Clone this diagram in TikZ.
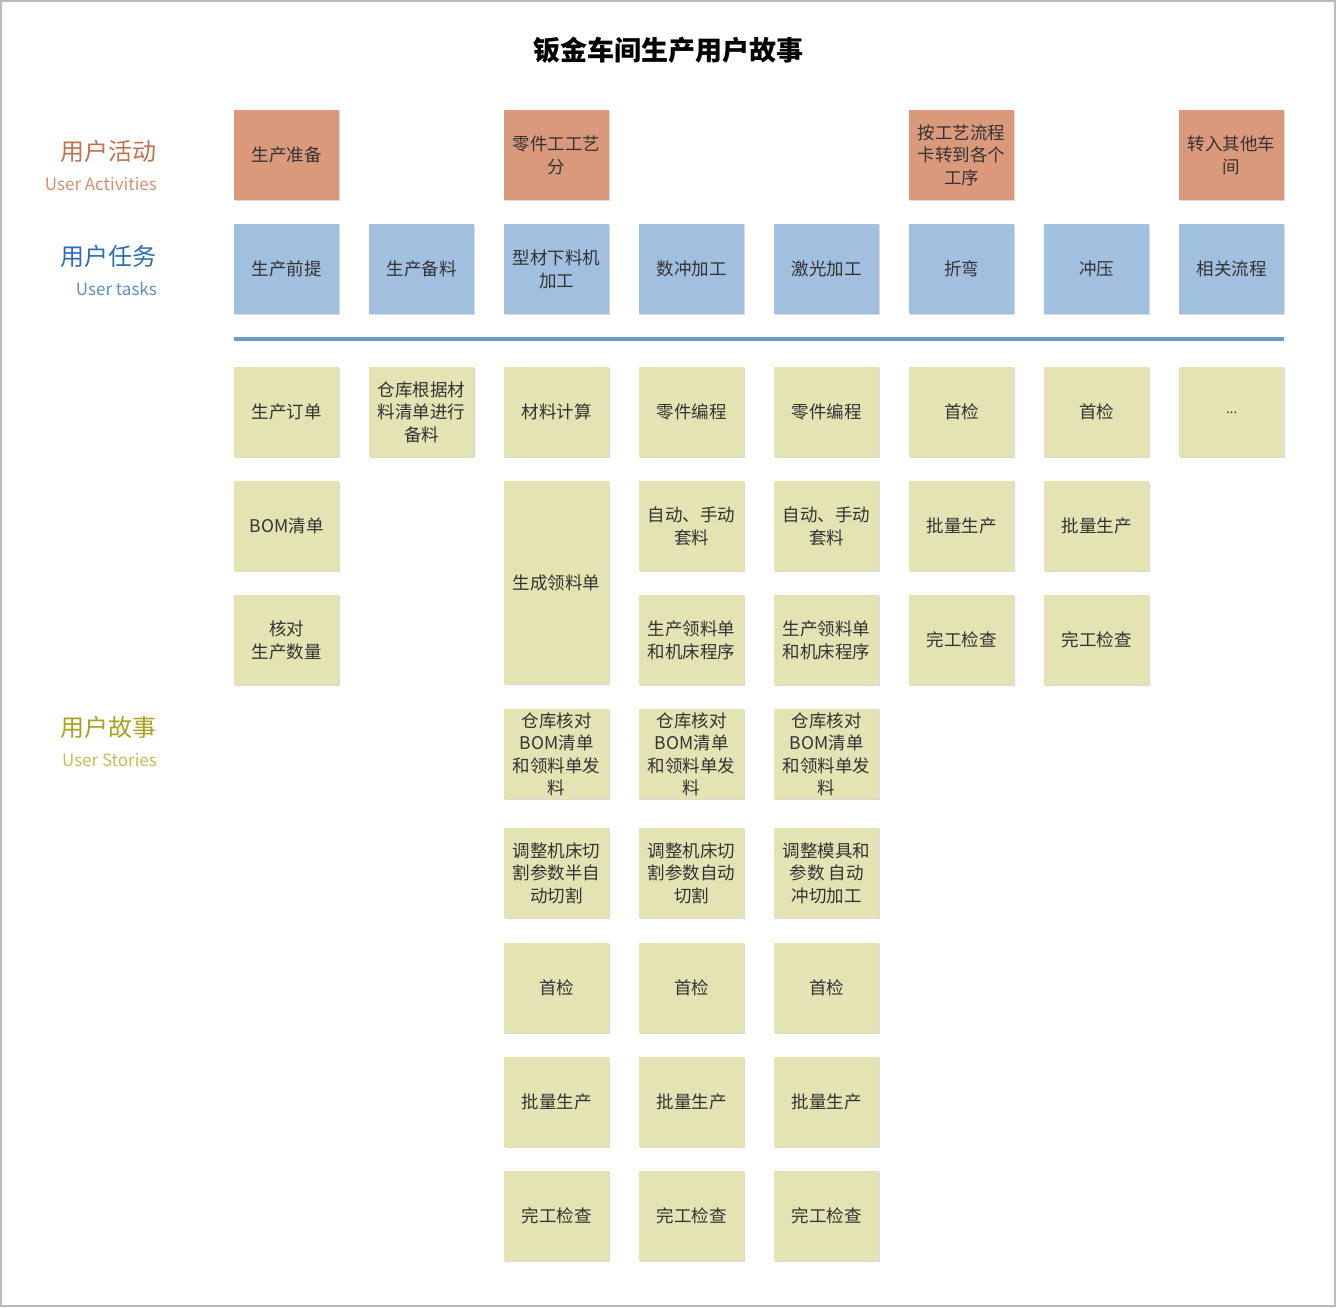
\documentclass[tikz,border=0pt]{standalone}
\usepackage{fontspec}
\setmainfont{Noto Sans CJK SC}
\newfontfamily\cjk{Noto Sans CJK SC}
\usetikzlibrary{shadows}
\definecolor{actfill}{HTML}{DB997B}
\definecolor{taskfill}{HTML}{A1BFDE}
\definecolor{storyfill}{HTML}{E3E3B3}
\definecolor{txt}{HTML}{333333}
\definecolor{actlab}{HTML}{C0714F}
\definecolor{actsub}{HTML}{D4906E}
\definecolor{tasklab}{HTML}{2D6DB0}
\definecolor{tasksub}{HTML}{5A8FC8}
\definecolor{storylab}{HTML}{A9A11E}
\definecolor{storysub}{HTML}{C5BF52}
\definecolor{divline}{HTML}{7098C8}
\definecolor{frame}{HTML}{BBBBBB}
\tikzset{
  card/.style={anchor=north west, minimum width=105pt, minimum height=90pt, inner sep=0pt,
    align=center, text=txt, font=\cjk\fontsize{17.5}{22.5}\selectfont,
    drop shadow={shadow xshift=1.2pt, shadow yshift=-1.2pt, opacity=0.15, fill=black}},
  act/.style={card, fill=actfill},
  task/.style={card, fill=taskfill},
  story/.style={card, fill=storyfill},
  biglab/.style={anchor=east, inner sep=0pt, font=\cjk\fontsize{24}{28}\selectfont},
  sublab/.style={anchor=east, inner sep=0pt, font=\cjk\fontsize{17}{20}\selectfont},
}
\begin{document}
\begin{tikzpicture}[x=1pt,y=-1pt]
\useasboundingbox (0,0) rectangle (1336,1307);
\draw[frame, line width=2pt] (1,1) rectangle (1335,1306);
\node[font=\cjk\bfseries\fontsize{27}{30}\selectfont, text=black] (title) at (668,50) {钣金车间生产用户故事};
% left labels
\node[biglab, text=actlab] (la) at (157,151) {用户活动};
\node[sublab, text=actsub] (las) at (157,184) {User Activities};
\node[biglab, text=tasklab] (lt) at (157,256) {用户任务};
\node[sublab, text=tasksub] (lts) at (157,289) {User tasks};
\node[biglab, text=storylab] (ls) at (157,727) {用户故事};
\node[sublab, text=storysub] (lss) at (157,760) {User Stories};
% activities
\node[act] (a0) at (234,110) {生产准备};
\node[act] (a2) at (504,110) {零件工工艺\\分};
\node[act] (a5) at (909,110) {按工艺流程\\卡转到各个\\工序};
\node[act] (a7) at (1179,110) {转入其他车\\间};
% tasks
\node[task] (t0) at (234,224) {生产前提};
\node[task] (t1) at (369,224) {生产备料};
\node[task] (t2) at (504,224) {型材下料机\\加工};
\node[task] (t3) at (639,224) {数冲加工};
\node[task] (t4) at (774,224) {激光加工};
\node[task] (t5) at (909,224) {折弯};
\node[task] (t6) at (1044,224) {冲压};
\node[task] (t7) at (1179,224) {相关流程};
% divider
\coordinate (dl) at (234,339);
\coordinate (dr) at (1284,339);
\draw[divline, line width=4pt] (dl) -- (dr);
% stories col0
\node[story] (s00) at (234,367) {生产订单};
\node[story] (s01) at (234,481) {BOM清单};
\node[story] (s02) at (234,595) {核对\\生产数量};
% col1
\node[story] (s10) at (369,367) {仓库根据材\\料清单进行\\备料};
% col2
\node[story] (s20) at (504,367) {材料计算};
\node[story, minimum height=203pt] (s21) at (504,481) {生成领料单};
\node[story] (s23) at (504,709) {仓库核对\\BOM清单\\和领料单发\\料};
\node[story] (s24) at (504,828) {调整机床切\\割参数半自\\动切割};
\node[story] (s25) at (504,943) {首检};
\node[story] (s26) at (504,1057) {批量生产};
\node[story] (s27) at (504,1171) {完工检查};
% col3
\node[story] (s30) at (639,367) {零件编程};
\node[story] (s31) at (639,481) {自动、手动\\套料};
\node[story] (s32) at (639,595) {生产领料单\\和机床程序};
\node[story] (s33) at (639,709) {仓库核对\\BOM清单\\和领料单发\\料};
\node[story] (s34) at (639,828) {调整机床切\\割参数自动\\切割};
\node[story] (s35) at (639,943) {首检};
\node[story] (s36) at (639,1057) {批量生产};
\node[story] (s37) at (639,1171) {完工检查};
% col4
\node[story] (s40) at (774,367) {零件编程};
\node[story] (s41) at (774,481) {自动、手动\\套料};
\node[story] (s42) at (774,595) {生产领料单\\和机床程序};
\node[story] (s43) at (774,709) {仓库核对\\BOM清单\\和领料单发\\料};
\node[story] (s44) at (774,828) {调整模具和\\参数 自动\\冲切加工};
\node[story] (s45) at (774,943) {首检};
\node[story] (s46) at (774,1057) {批量生产};
\node[story] (s47) at (774,1171) {完工检查};
% col5
\node[story] (s50) at (909,367) {首检};
\node[story] (s51) at (909,481) {批量生产};
\node[story] (s52) at (909,595) {完工检查};
% col6
\node[story] (s60) at (1044,367) {首检};
\node[story] (s61) at (1044,481) {批量生产};
\node[story] (s62) at (1044,595) {完工检查};
% col7
\node[story, font=\cjk\fontsize{13}{14}\selectfont, text depth=-6pt] (s70) at (1179,367) {...};
\end{tikzpicture}
\end{document}
